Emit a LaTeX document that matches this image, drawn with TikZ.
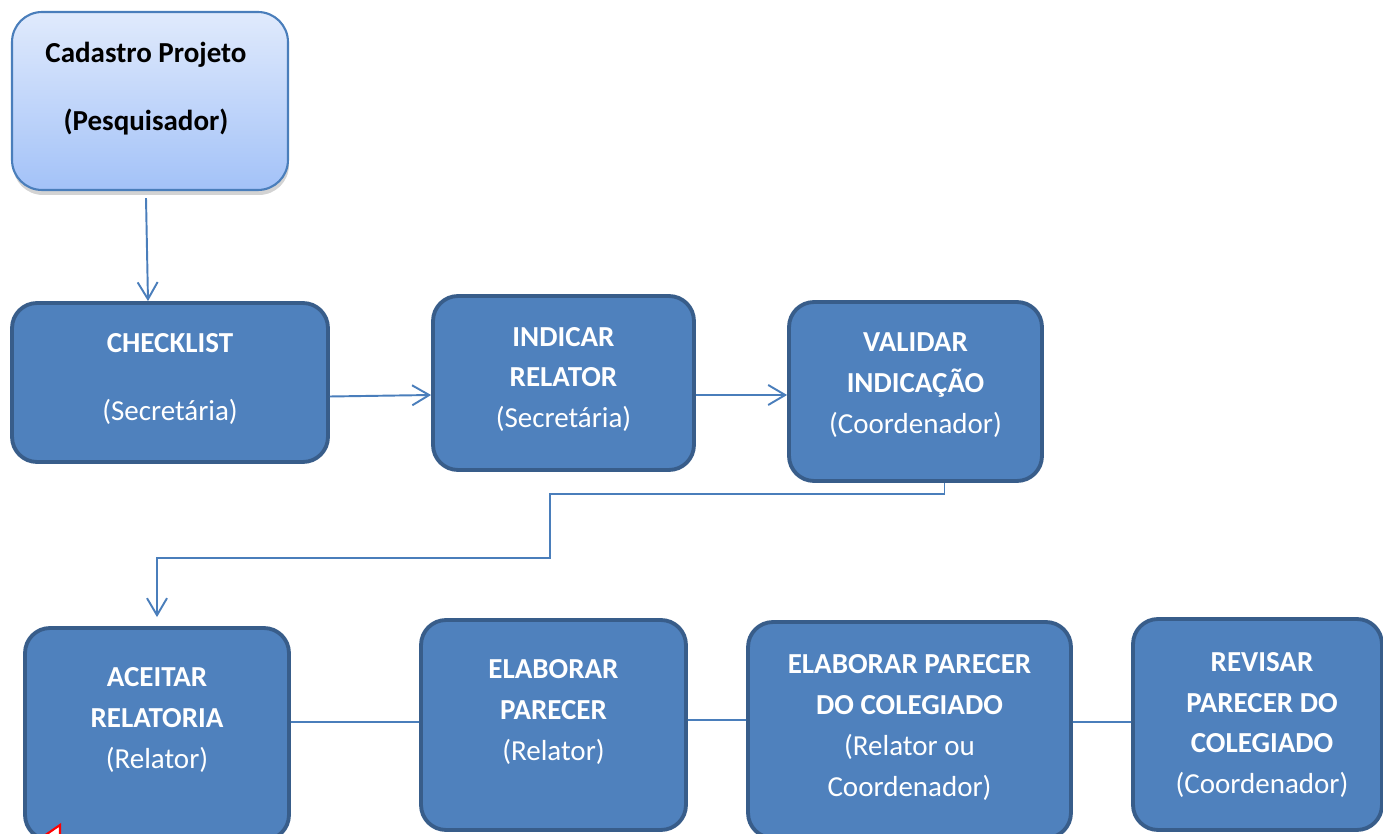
\documentclass[tikz,border=0pt]{standalone}
\usepackage{fontspec}
\setmainfont{Carlito}
\usetikzlibrary{arrows.meta,shadows}
\definecolor{boxblue}{RGB}{79,129,189}
\definecolor{boxedge}{RGB}{56,93,138}
\definecolor{linkblue}{RGB}{74,126,187}
\definecolor{cadtop}{RGB}{224,234,252}
\definecolor{cadbot}{RGB}{163,194,248}

\tikzset{
  startbox/.style={draw=linkblue, line width=1.2pt, rounded corners=0.6cm,
    top color=cadtop, bottom color=cadbot,
    drop shadow={shadow xshift=0.02cm, shadow yshift=-0.1cm, opacity=0.35}},
  stagebox/.style={draw=boxedge, fill=boxblue, line width=2.2pt, rounded corners=0.5cm},
  stagetxt/.style={text=white, align=center, font=\fontsize{16.5}{23.3}\selectfont},
  starttxt/.style={text=black, align=center, font=\fontsize{16.5}{23.3}\selectfont\bfseries},
  link/.style={draw=linkblue, line width=1.1pt},
  flow/.style={link, -{Straight Barb[length=3.4mm, width=4mm]}}
}

\begin{document}
\begin{tikzpicture}[x=0.02cm, y=-0.02cm]
  \useasboundingbox (0,0) rectangle (1383,834);
  \clip (0,0) rectangle (1383,834);

  % boxes
  \node[startbox, minimum width=5.52cm, minimum height=3.56cm] (cad) at (150,101) {};
  \node[stagebox, minimum width=6.32cm, minimum height=3.18cm] (chk) at (170,382.5) {};
  \node[stagebox, minimum width=5.22cm, minimum height=3.48cm] (ind) at (563.5,383) {};
  \node[stagebox, minimum width=5.06cm, minimum height=3.58cm] (val) at (915.5,391.5) {};
  \node[stagebox, minimum width=5.28cm, minimum height=4.24cm] (ace) at (157,734) {};
  \node[stagebox, minimum width=5.30cm, minimum height=4.20cm] (ela) at (553.5,725) {};
  \node[stagebox, minimum width=6.46cm, minimum height=4.32cm] (col) at (909.5,730) {};
  \node[stagebox, minimum width=4.98cm, minimum height=4.22cm] (rev) at (1257.5,724.5) {};

  % texts
  \node[starttxt] (cad-txt) at (146,89) {Cadastro Projeto\\[0.54cm](Pesquisador)};
  \node[stagetxt] (chk-txt) at (170,379) {\textbf{CHECKLIST}\\[0.54cm](Secretária)};
  \node[stagetxt] (ind-txt) at (563.5,379.5) {\textbf{INDICAR}\\\textbf{RELATOR}\\(Secretária)};
  \node[stagetxt] (val-txt) at (915.5,385.5) {\textbf{VALIDAR}\\\textbf{INDICAÇÃO}\\(Coordenador)};
  \node[stagetxt] (ace-txt) at (157,720) {\textbf{ACEITAR}\\\textbf{RELATORIA}\\(Relator)};
  \node[stagetxt] (ela-txt) at (553.5,712) {\textbf{ELABORAR}\\\textbf{PARECER}\\(Relator)};
  \node[stagetxt] (col-txt) at (909.5,727.5) {\textbf{ELABORAR PARECER}\\\textbf{DO COLEGIADO}\\(Relator ou\\Coordenador)};
  \node[stagetxt] (rev-txt) at (1262,725) {\textbf{REVISAR}\\\textbf{PARECER DO}\\\textbf{COLEGIADO}\\(Coordenador)};

  % connectors
  \draw[flow] ([xshift=-0.08cm,yshift=-0.14cm]cad.south) -- ([xshift=-0.44cm]chk.north);
  \draw[flow] ([yshift=-0.28cm]chk.east) -- ([yshift=-0.24cm]ind.west);
  \draw[flow] ([yshift=-0.24cm]ind.east) -- ([yshift=-0.24cm]ind.east -| val.west);
  \coordinate (bend1) at (550,494);
  \coordinate (bend2) at (550,558);
  \draw[flow, shorten >=0.18cm] ([xshift=0.58cm]val.south) |- (bend1) -- (bend2) -| (ace.north);
  \draw[link] ([yshift=0.24cm]ace.east) -- ([yshift=0.06cm]ela.west);
  \draw[link] ([yshift=0.1cm]ela.east) -- ([yshift=0.2cm]col.west);
  \draw[link] ([yshift=0.16cm]col.east) -- ([yshift=0.05cm]rev.west);

  % red mark at the bottom edge
  \draw[red, fill=white, line width=1.2pt] (44,836) -- (60,825) -- (60,836);
\end{tikzpicture}
\end{document}
